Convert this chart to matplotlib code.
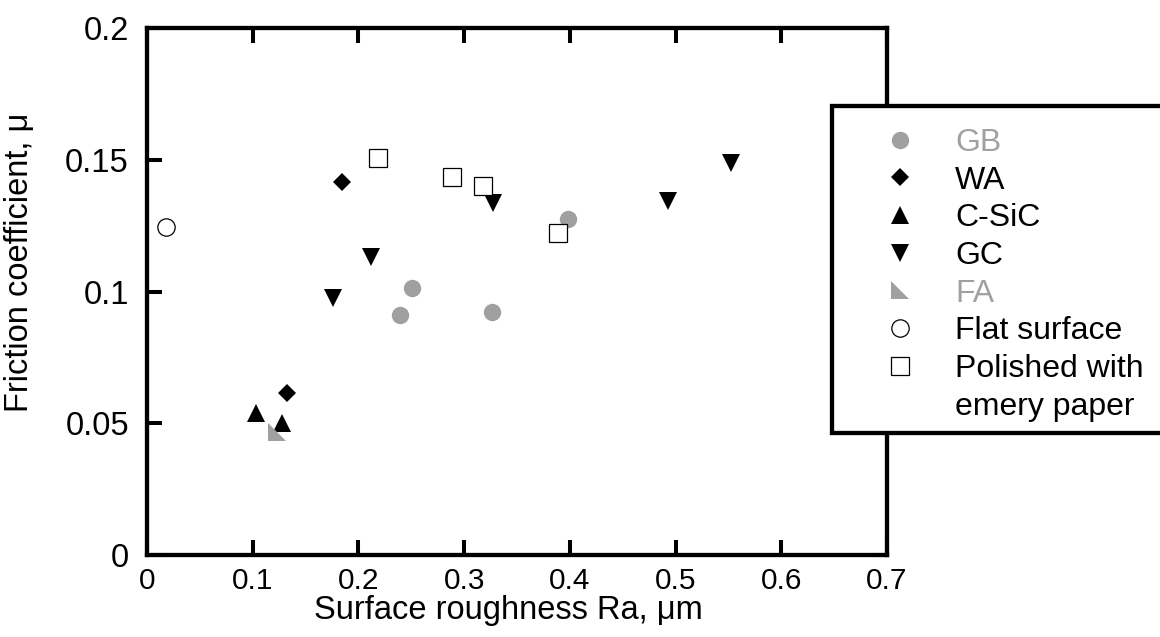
import matplotlib.pyplot as plt
from matplotlib.lines import Line2D
from matplotlib.patches import Rectangle

plt.rcParams["font.family"] = ["Liberation Sans", "DejaVu Sans"]

# data
gb_x = [0.239, 0.251, 0.326, 0.398]
gb_y = [0.091, 0.1015, 0.0923, 0.1276]
wa_x = [0.132, 0.1845]
wa_y = [0.0614, 0.1416]
csic_x = [0.1034, 0.1274]
csic_y = [0.0538, 0.0502]
gc_x = [0.176, 0.2116, 0.3276, 0.4929, 0.5528]
gc_y = [0.0974, 0.1132, 0.1337, 0.1345, 0.1486]
fa_x = [0.1233]
fa_y = [0.0468]
flat_x = [0.0177]
flat_y = [0.1246]
pol_x = [0.2185, 0.2883, 0.318, 0.389]
pol_y = [0.1507, 0.1435, 0.1402, 0.1221]

x_ticks = [0, 0.1, 0.2, 0.3, 0.4, 0.5, 0.6, 0.7]
x_labels = ["0", "0.1", "0.2", "0.3", "0.4", "0.5", "0.6", "0.7"]
y_ticks = [0, 0.05, 0.1, 0.15, 0.2]
y_labels = ["0", "0.05", "0.1", "0.15", "0.2"]

grey = "#a0a0a0"
xtick_fs = 21.5
ytick_fs = 23.5
label_fs = 23.5
leg_fs = 23
ms = 12.5
fa_marker = [(-1, 1), (-1, -1), (1, -1)]

W, H = 1160, 637
fig = plt.figure(figsize=(W / 100, H / 100), dpi=100)
ax = fig.add_axes([147 / W, 1 - 555 / H, (887 - 147) / W, (555 - 28) / H])

ax.plot(gb_x, gb_y, "o", color=grey, ms=ms, mew=0, label="GB")
ax.plot(wa_x, wa_y, "D", color="black", ms=ms / 1.414, mew=0, label="WA")
ax.plot(csic_x, csic_y, "^", color="black", ms=ms, mew=0, label="C-SiC")
ax.plot(gc_x, gc_y, "v", color="black", ms=ms, mew=0, label="GC")
ax.plot(fa_x, fa_y, marker=fa_marker, ls="none", color=grey, ms=ms, mew=0, label="FA")
ax.plot(flat_x, flat_y, "o", mfc="white", mec="black", ms=ms, mew=0.9,
        label="Flat surface")
ax.plot(pol_x, pol_y, "s", mfc="white", mec="black", ms=ms, mew=0.9,
        label="Polished with")

ax.set_xlim(0, 0.7)
ax.set_ylim(0, 0.2)
ax.set_xticks(x_ticks)
ax.set_xticklabels(x_labels)
ax.set_yticks(y_ticks)
ax.set_yticklabels(y_labels)
ax.tick_params(direction="in", length=11, width=2.9, top=True, right=True)
ax.tick_params(axis="x", pad=8.5, labelsize=xtick_fs)
ax.tick_params(axis="y", pad=13, labelsize=ytick_fs)
for sp in ax.spines.values():
    sp.set_linewidth(3.1)

ax.set_xlabel("Surface roughness Ra, \u03bcm", fontsize=label_fs, va="baseline")
ax.xaxis.set_label_coords(0.4885, -0.1215)
ax.set_ylabel("Friction coefficient, \u03bc", fontsize=label_fs)
ax.yaxis.set_label_coords(-0.151, 0.556)

# legend box sits over the right spine and runs off the figure edge
box = Rectangle((832 / W, 1 - 433 / H), (1175 - 832) / W, (433 - 106) / H,
                transform=fig.transFigure, facecolor="white",
                edgecolor="black", linewidth=3.1, zorder=5)
fig.patches.append(box)

handles, labels = ax.get_legend_handles_labels()
handles.append(Line2D([], [], ls="none", marker="none"))
labels.append("emery paper")
leg = fig.legend(handles, labels, loc="upper left",
                 bbox_to_anchor=(868 / W, 1 - 128 / H), frameon=False,
                 fontsize=leg_fs, borderpad=0, borderaxespad=0,
                 handlelength=2.0, handletextpad=0.72, labelspacing=0.24,
                 numpoints=1)
leg.set_zorder(6)
for t in leg.get_texts():
    if t.get_text() in ("GB", "FA"):
        t.set_color(grey)

fig.savefig("out.png", dpi=100)
